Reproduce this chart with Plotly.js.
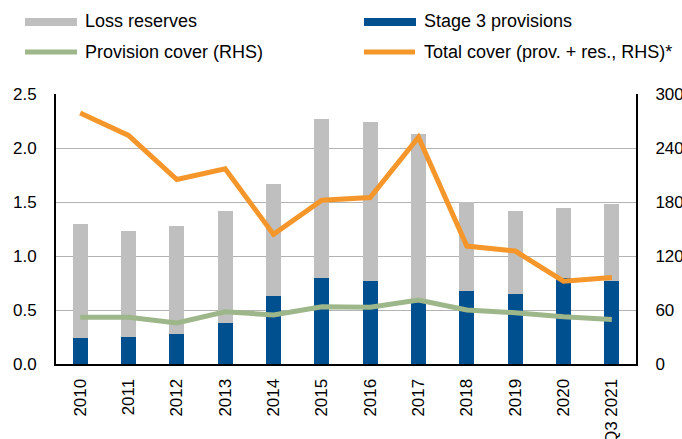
<!DOCTYPE html>
<html>
<head>
<meta charset="utf-8">
<script src="https://cdn.plot.ly/plotly-3.0.1.min.js"></script>
<style>html,body{margin:0;padding:0;background:#fff;}#chart{width:682px;height:439px;}</style>
</head>
<body>
<div id="chart"></div>
<script>
const categories = ["2010","2011","2012","2013","2014","2015","2016","2017","2018","2019","2020","Q3 2021"];
const stage3Provisions = [0.24,0.25,0.28,0.38,0.63,0.80,0.77,0.57,0.68,0.65,0.80,0.77];
const lossReserves = [1.06,0.98,1.00,1.04,1.04,1.47,1.47,1.56,0.82,0.77,0.64,0.71];
const provisionCover = [52,52,45.5,58,54.5,63.5,63,71,60,57,52.5,49.5];
const totalCover = [279,254,205,217,144,182,185,252,131,125.5,92,96];
const seriesNames = ["Loss reserves","Stage 3 provisions","Provision cover (RHS)","Total cover (prov. + res., RHS)*"];
const colors = {grey:"#bfbfbf", blue:"#004f8f", green:"#9db78a", orange:"#f5962a"};

const W = 682, H = 439, L = 56, R = 46, T = 94, B = 75;
const pw = W - L - R, ph = H - T - B;
const px = x => (x - L) / pw;
const py = y => (H - B - y) / ph;

const traces = [
  {type:"bar", name:seriesNames[1], x:categories, y:stage3Provisions, marker:{color:colors.blue}, yaxis:"y", showlegend:false},
  {type:"bar", name:seriesNames[0], x:categories, y:lossReserves, marker:{color:colors.grey}, yaxis:"y", showlegend:false},
  {type:"scatter", mode:"lines", name:seriesNames[2], x:categories, y:provisionCover, yaxis:"y2", line:{color:colors.green, width:5}, showlegend:false},
  {type:"scatter", mode:"lines", name:seriesNames[3], x:categories, y:totalCover, yaxis:"y2", line:{color:colors.orange, width:5}, showlegend:false}
];

const shapes = [
  {type:"rect", xref:"paper", yref:"paper", x0:px(25), x1:px(77), y0:py(26), y1:py(18), fillcolor:colors.grey, line:{width:0}},
  {type:"rect", xref:"paper", yref:"paper", x0:px(364), x1:px(416), y0:py(26), y1:py(18), fillcolor:colors.blue, line:{width:0}},
  {type:"line", xref:"paper", yref:"paper", x0:px(25), x1:px(77), y0:py(52), y1:py(52), line:{color:colors.green, width:5}},
  {type:"line", xref:"paper", yref:"paper", x0:px(364), x1:px(415), y0:py(52), y1:py(52), line:{color:colors.orange, width:5}}
];
const legendPos = [[83,21],[422,21],[83,52],[422,52]];
const annotations = [0,1,2,3].map(i => ({
  xref:"paper", yref:"paper", x:px(legendPos[i][0]), y:py(legendPos[i][1]),
  xanchor:"left", yanchor:"middle", showarrow:false, text:seriesNames[i],
  font:{size:18, color:"#000"}
}));

const layout = {
  width:W, height:H,
  margin:{l:L, r:R, t:T, b:B, pad:0},
  paper_bgcolor:"#fff", plot_bgcolor:"#fff",
  font:{family:"Liberation Sans, Arial, sans-serif", size:17, color:"#000"},
  barmode:"stack", bargap:0.69,
  showlegend:false,
  xaxis:{type:"category", tickangle:-90, showline:true, linecolor:"#000", linewidth:2, ticks:"", showgrid:false, ticklabelstandoff:6, tickfont:{size:17}},
  yaxis:{range:[0,2.5], dtick:0.5, tickformat:".1f", showline:true, linecolor:"#000", linewidth:2, gridcolor:"#b3b3b3", gridwidth:1, ticks:"", zeroline:false, ticklabelstandoff:14, tickfont:{size:17}},
  yaxis2:{range:[0,300], dtick:60, overlaying:"y", side:"right", showline:true, linecolor:"#000", linewidth:2, showgrid:false, ticks:"", zeroline:false, ticklabelstandoff:14, tickfont:{size:17}},
  shapes:shapes, annotations:annotations
};
Plotly.newPlot("chart", traces, layout, {staticPlot:true, displayModeBar:false});
</script>
</body>
</html>
